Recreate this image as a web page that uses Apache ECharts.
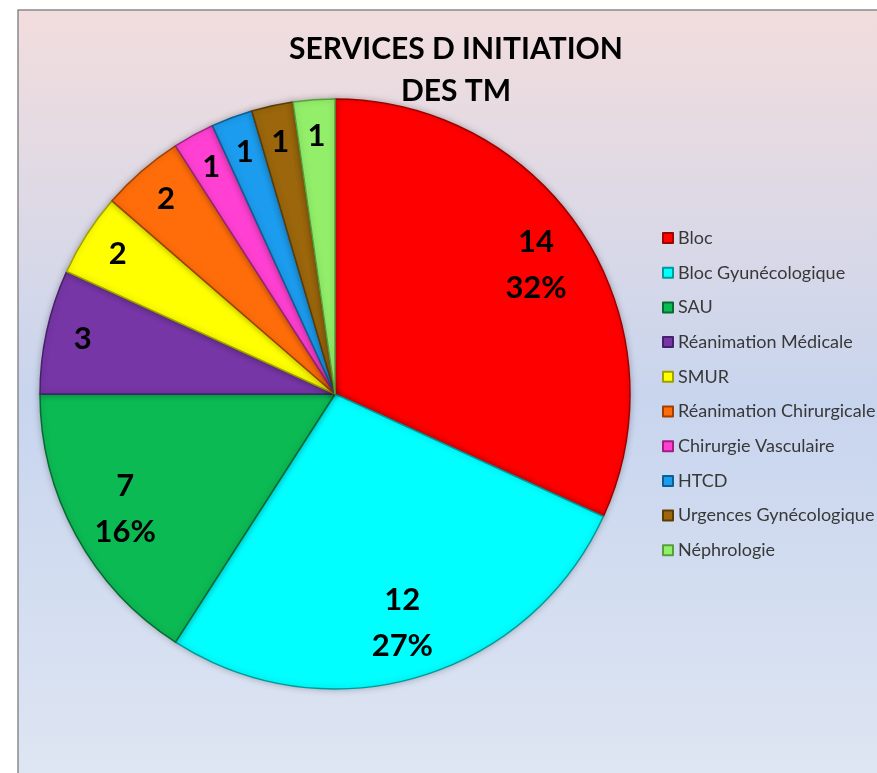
<!DOCTYPE html>
<html>
<head>
<meta charset="utf-8">
<script src="https://cdn.jsdelivr.net/npm/echarts@6/dist/echarts.min.js"></script>
<style>
html, body { margin: 0; padding: 0; background: #ffffff; }
#main { width: 877px; height: 773px; }
</style>
</head>
<body>
<div id="main"></div>
<script>
var categories = ['Bloc', 'Bloc Gyunécologique', 'SAU', 'Réanimation Médicale', 'SMUR',
    'Réanimation Chirurgicale', 'Chirurgie Vasculaire', 'HTCD', 'Urgences Gynécologique', 'Néphrologie'];
var values = [14, 12, 7, 3, 2, 2, 1, 1, 1, 1];
var colors = ['#ff0000', '#00ffff', '#0cba54', '#7636a6', '#ffff00',
    '#ff6d0a', '#ff40d2', '#1c9cee', '#9b660c', '#93ef6a'];
var edgeColors = ['#9c0000', '#009a9a', '#066b30', '#46206a', '#a0a000',
    '#a04000', '#a02080', '#0b5f94', '#5c3c05', '#56a03c'];
var chartTitle = 'SERVICES D INITIATION\nDES TM';
var bigCount = 3; // slices that also show the percentage

var cx = 335, cy = 394, R = 295;

var chart = echarts.init(document.getElementById('main'));

var mainData = categories.map(function (c, i) {
    return {
        name: c,
        value: values[i],
        itemStyle: {
            color: colors[i],
            borderColor: edgeColors[i],
            borderWidth: 1.5
        }
    };
});
var labelData = values.map(function (v, i) {
    return { name: 'lbl' + i, value: v };
});

var labelFont = {
    color: '#000',
    fontFamily: 'Lato',
    fontWeight: 'bold',
    fontSize: 31,
    lineHeight: 46
};

var option = {
    animation: false,
    graphic: [{
        type: 'rect',
        z: -100,
        shape: { x: 18, y: 10, width: 880, height: 780 },
        style: {
            fill: new echarts.graphic.LinearGradient(0, 0, 0, 1, [
                { offset: 0, color: '#f2dddd' },
                { offset: 0.5, color: '#c8d5ee' },
                { offset: 1, color: '#dfe6f3' }
            ]),
            stroke: '#8a8a8a',
            lineWidth: 1.5
        }
    }, {
        type: 'text',
        x: 456,
        y: 28,
        style: {
            text: chartTitle,
            textAlign: 'center',
            textVerticalAlign: 'top',
            fill: '#000',
            fontFamily: 'Lato',
            fontWeight: 'bold',
            fontSize: 30,
            lineHeight: 42
        }
    }],
    legend: {
        orient: 'vertical',
        left: 662,
        top: 229,
        padding: 0,
        itemWidth: 10,
        itemHeight: 10,
        itemGap: 16.7,
        icon: 'rect',
        data: categories,
        textStyle: {
            color: '#383838',
            fontFamily: 'Lato',
            fontSize: 18,
            lineHeight: 15
        }
    },
    series: [{
        type: 'pie',
        center: [cx, cy],
        radius: R,
        startAngle: 90,
        silent: true,
        label: { show: false },
        labelLine: { show: false },
        itemStyle: {
            shadowBlur: 6,
            shadowColor: 'rgba(0,0,0,0.25)'
        },
        data: mainData
    }, {
        type: 'pie',
        center: [cx, cy],
        radius: [R * 0.6, R],
        startAngle: 90,
        silent: true,
        percentPrecision: 0,
        itemStyle: { color: 'rgba(0,0,0,0)' },
        label: Object.assign({
            show: true,
            position: 'inside',
            formatter: function (p) {
                return p.dataIndex < bigCount ? p.value + '\n' + p.percent + '%' : '';
            }
        }, labelFont),
        labelLine: { show: false },
        data: labelData
    }, {
        type: 'pie',
        center: [cx, cy],
        radius: [R * 0.73, R],
        startAngle: 90,
        silent: true,
        itemStyle: { color: 'rgba(0,0,0,0)' },
        label: Object.assign({
            show: true,
            position: 'inside',
            formatter: function (p) {
                return p.dataIndex < bigCount ? '' : String(p.value);
            }
        }, labelFont),
        labelLine: { show: false },
        data: labelData
    }]
};

chart.setOption(option);
</script>
</body>
</html>
